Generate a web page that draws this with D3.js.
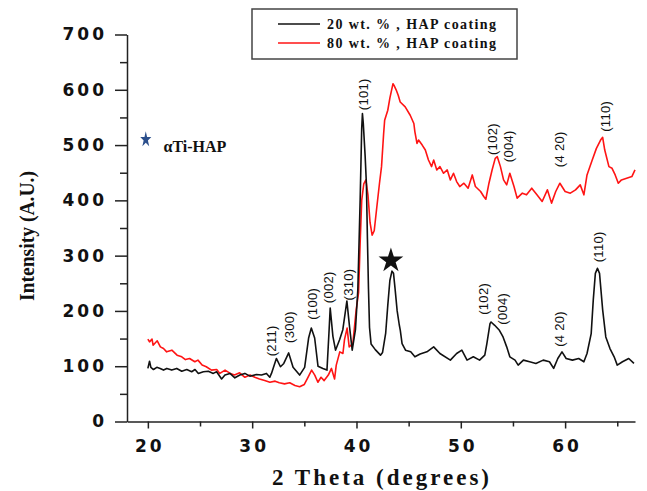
<!DOCTYPE html>
<html>
<head>
<meta charset="utf-8">
<script src="https://cdn.jsdelivr.net/npm/d3@7"></script>
<style>
	body { margin: 0; background: #fff; }
	svg { display: block; }
	.tick-label { font-family: "DejaVu Sans", sans-serif; font-weight: bold; font-size: 17px; letter-spacing: 3px; fill: #111; }
	.peak-label { font-family: "Liberation Sans", Arial, sans-serif; font-size: 13px; letter-spacing: 0.3px; fill: #111; }
	.serif-bold { font-family: "Liberation Serif", "Times New Roman", serif; font-weight: bold; fill: #111; }
</style>
</head>
<body>
<svg id="plot"></svg>
<script>
const WIDTH = 647;
const HEIGHT = 491;

const svg = d3.select("#plot").attr("width", WIDTH).attr("height", HEIGHT);

// 20 wt.% HAP coating (black)
const theta20 = [
	20.00, 20.16, 20.29, 20.54, 20.86, 21.18, 21.50, 21.82, 22.29, 22.77, 23.25, 23.73, 24.20, 24.52,
	24.84, 25.32, 25.80, 26.27, 26.59, 27.07, 27.39, 27.87, 28.34, 28.82, 29.30, 29.78, 30.41, 30.89,
	31.37, 31.69, 31.85, 32.32, 32.71, 33.03, 33.50, 33.92, 34.55, 35.03, 35.41, 35.67, 35.99, 36.31,
	36.78, 37.17, 37.36, 37.48, 37.74, 37.99, 38.38, 38.69, 39.08, 39.33, 39.59, 39.90, 40.13, 40.35,
	40.50, 40.57, 40.65, 40.83, 40.95, 41.05, 41.15, 41.25, 41.40, 41.80, 42.30, 42.50, 42.80, 43.00,
	43.20, 43.40, 43.55, 43.70, 43.90, 44.10, 44.20, 44.37, 44.70, 45.20, 45.60, 46.10, 46.75, 47.40,
	48.00, 49.00, 49.60, 50.10, 50.60, 51.20, 51.80, 52.30, 52.50, 52.80, 52.90, 53.25, 53.70, 54.05,
	54.40, 54.70, 55.20, 55.50, 56.00, 56.60, 57.20, 57.90, 58.50, 58.90, 59.30, 59.70, 60.10, 60.70,
	61.30, 61.80, 62.10, 62.50, 62.70, 62.90, 63.10, 63.30, 63.60, 63.90, 64.30, 64.70, 65.00, 65.50,
	66.10, 66.60,
];
const intensity20 = [
	96, 109, 98, 94, 98, 96, 93, 96, 93, 96, 91, 94, 90, 94,
	87, 90, 91, 87, 90, 77, 84, 87, 79, 84, 87, 82, 85, 84,
	87, 80, 87, 114, 99, 105, 124, 98, 84, 98, 151, 169, 151, 100,
	96, 93, 160, 205, 154, 129, 148, 166, 218, 172, 129, 166, 239, 400,
	530, 557, 540, 480, 430, 330, 240, 170, 140, 130, 120, 125, 160, 210,
	255, 272, 268, 240, 200, 175, 165, 141, 129, 126, 117, 122, 126, 135,
	123, 111, 123, 129, 111, 117, 111, 120, 141, 177, 180, 174, 165, 153,
	135, 117, 111, 102, 111, 108, 105, 111, 108, 96, 114, 126, 114, 111,
	114, 108, 123, 159, 220, 268, 277, 268, 202, 153, 132, 117, 102, 108,
	114, 105,
];

// 80 wt.% HAP coating (red)
const theta80 = [
	20.00, 20.16, 20.40, 20.50, 20.90, 21.20, 21.50, 21.80, 22.30, 22.80, 23.25, 23.60, 24.00, 24.50,
	24.80, 25.20, 25.60, 26.10, 26.60, 26.90, 27.40, 27.90, 28.30, 28.80, 29.30, 29.80, 30.25, 30.70,
	31.20, 31.70, 32.20, 32.60, 33.10, 33.60, 34.10, 34.55, 35.00, 35.35, 35.70, 36.00, 36.30, 36.60,
	36.90, 37.30, 37.60, 37.90, 38.06, 38.40, 38.70, 38.85, 39.10, 39.30, 39.65, 39.97, 40.20, 40.35,
	40.50, 40.70, 40.90, 41.10, 41.30, 41.50, 41.70, 41.95, 42.20, 42.40, 42.60, 42.70, 43.00, 43.20,
	43.50, 43.60, 43.80, 44.00, 44.19, 44.67, 45.15, 45.50, 45.60, 45.80, 45.95, 46.30, 46.60, 46.90,
	47.20, 47.40, 47.70, 48.00, 48.35, 48.70, 49.00, 49.30, 49.60, 49.90, 50.30, 50.70, 51.10, 51.40,
	51.90, 52.20, 52.40, 52.70, 53.00, 53.30, 53.50, 53.80, 54.10, 54.40, 54.70, 55.10, 55.40, 55.90,
	56.30, 56.80, 57.30, 57.80, 58.30, 58.70, 59.10, 59.50, 60.00, 60.50, 61.00, 61.45, 61.80, 62.10,
	62.60, 63.00, 63.40, 63.60, 63.80, 64.20, 64.50, 64.80, 65.10, 65.40, 65.90, 66.40, 66.70,
];
const intensity80 = [
	149, 144, 149, 138, 146, 135, 132, 126, 129, 120, 117, 112, 114, 108,
	111, 102, 99, 93, 94, 87, 93, 87, 84, 88, 80, 84, 80, 77,
	74, 71, 73, 70, 68, 70, 65, 63, 67, 80, 93, 84, 71, 80,
	74, 84, 96, 77, 102, 126, 123, 148, 169, 135, 141, 202, 233, 323,
	400, 430, 437, 410, 360, 337, 345, 388, 430, 461, 520, 545, 563, 585,
	611, 608, 600, 590, 578, 569, 554, 539, 524, 503, 509, 500, 491, 473,
	461, 473, 455, 461, 449, 455, 437, 449, 434, 425, 431, 422, 446, 425,
	416, 407, 402, 431, 455, 476, 479, 461, 437, 428, 449, 425, 404, 413,
	410, 422, 410, 398, 419, 395, 416, 431, 416, 413, 419, 428, 410, 446,
	473, 494, 509, 514, 491, 461, 458, 446, 431, 437, 440, 443, 455,
];

const X_TICKS = [20, 30, 40, 50, 60];
const X_MINOR = [25, 35, 45, 55, 65];
const Y_TICKS = [0, 100, 200, 300, 400, 500, 600, 700];
const Y_MINOR = [50, 150, 250, 350, 450, 550, 650];

// Miller indices, placed at [2θ, intensity] where each label starts
const blackLabels = [
	["(211)", 31.82, 118], ["(300)", 33.55, 142], ["(100)", 35.75, 184], ["(002)", 37.29, 214],
	["(310)", 39.2, 219], ["(101)", 40.63, 563], ["(102)", 52.15, 193], ["(004)", 53.97, 175],
	["(4 20)", 59.5, 135], ["(110)", 63.15, 288],
];
const redLabels = [
	["(102)", 53.0, 482], ["(004)", 54.55, 469], ["(4 20)", 59.5, 460], ["(110)", 63.83, 524],
];
const legendLabels = ["20 wt. % , HAP coating", "80 wt. % , HAP coating"];
const COLORS = ["#111111", "#ff1414"];

const xScale = d3.scaleLinear([18, 66.7], [127, 635]);
const yScale = d3.scaleLinear([0, 700], [421.5, 34.5]);

// axes
const axisColor = "#222";
const yAxis = svg.append("g").attr("transform", `translate(${xScale(18)},0)`)
	.call(d3.axisLeft(yScale).tickValues(Y_TICKS).tickSize(12).tickSizeOuter(0).tickPadding(8));
svg.append("g").attr("transform", `translate(${xScale(18)},0)`)
	.call(d3.axisLeft(yScale).tickValues(Y_MINOR).tickSize(7).tickFormat(""))
	.select(".domain").remove();
const xAxis = svg.append("g").attr("transform", `translate(0,${yScale(0)})`)
	.call(d3.axisBottom(xScale).tickValues(X_TICKS).tickSize(7).tickSizeOuter(0).tickPadding(11));
svg.append("g").attr("transform", `translate(0,${yScale(0)})`)
	.call(d3.axisBottom(xScale).tickValues(X_MINOR).tickSize(5).tickFormat(""))
	.select(".domain").remove();
svg.selectAll(".domain, .tick line").attr("stroke", axisColor).attr("stroke-width", 1.5);
yAxis.selectAll("text").attr("class", "tick-label").attr("font-size", null).attr("font-family", null);
xAxis.selectAll("text").attr("class", "tick-label").attr("font-size", null).attr("font-family", null)
	.attr("dx", "1.5px");

// curves
const line = d3.line().x(d => xScale(d[0])).y(d => yScale(d[1]));
const series = [
	d3.zip(theta80, intensity80),
	d3.zip(theta20, intensity20),
];
svg.append("g").selectAll("path").data(series).join("path")
	.attr("d", line)
	.attr("fill", "none")
	.attr("stroke", (d, i) => (i === 0 ? COLORS[1] : COLORS[0]))
	.attr("stroke-width", 1.6)
	.attr("stroke-linejoin", "round");

// peak labels
function addLabels(labels) {
	svg.append("g").selectAll("text").data(labels).join("text")
		.attr("class", "peak-label")
		.attr("transform", d => `translate(${xScale(d[1])},${yScale(d[2])}) rotate(-90)`)
		.attr("dy", "0.35em")
		.text(d => d[0]);
}
addLabels(blackLabels);
addLabels(redLabels);

// star over the main HAP reflection
svg.append("path")
	.attr("d", d3.symbol(d3.symbolStar, 190)())
	.attr("transform", `translate(${xScale(43.3)},${yScale(291)})`)
	.attr("fill", "#111");

// αTi-HAP key
svg.append("path")
	.attr("d", d3.symbol(d3.symbolStar, 60)())
	.attr("transform", `translate(${xScale(19.8)},${yScale(510)}) scale(0.8,1.15)`)
	.attr("fill", "#2b4f8c");
svg.append("text").attr("class", "serif-bold")
	.attr("x", xScale(21.5)).attr("y", yScale(488))
	.attr("font-size", 16)
	.text("αTi-HAP");

// legend
const legend = svg.append("g");
legend.append("rect")
	.attr("x", 252).attr("y", 9).attr("width", 265).attr("height", 50)
	.attr("fill", "#fff").attr("stroke", "#444").attr("stroke-width", 1.5);
legendLabels.forEach((label, i) => {
	const y = 24 + i * 19;
	legend.append("line")
		.attr("x1", 278).attr("x2", 320).attr("y1", y).attr("y2", y)
		.attr("stroke", COLORS[i]).attr("stroke-width", 1.6);
	legend.append("text").attr("class", "serif-bold")
		.attr("x", 327).attr("y", y + 5)
		.attr("font-size", 14).attr("letter-spacing", "1.4px")
		.text(label);
});

// axis titles
svg.append("text").attr("class", "serif-bold")
	.attr("transform", "translate(34,236) rotate(-90)")
	.attr("text-anchor", "middle")
	.attr("font-size", 21)
	.attr("textLength", 130).attr("lengthAdjust", "spacingAndGlyphs")
	.text("Intensity (A.U.)");
svg.append("text").attr("class", "serif-bold")
	.attr("x", 382).attr("y", 485)
	.attr("text-anchor", "middle")
	.attr("font-size", 23).attr("letter-spacing", "3px")
	.text("2 Theta (degrees)");
</script>
</body>
</html>
